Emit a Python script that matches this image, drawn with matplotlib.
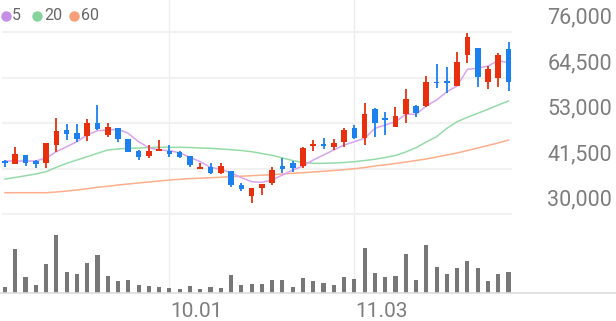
import numpy as np
import matplotlib.pyplot as plt
from matplotlib.lines import Line2D
from matplotlib.transforms import blended_transform_factory

plt.rcParams['font.family'] = ['Roboto', 'DejaVu Sans']

# daily candles (50 sessions)
opens = [43400, 42560, 44990, 43400, 42810, 47440, 51230, 50550, 49790, 52920,
         49970, 51660, 48880, 45920, 44660, 46000, 45920, 45750, 44740, 41370,
         41960, 40440, 40940, 37330, 34550, 36500, 37910, 42130, 42810, 42130,
         47190, 47570, 47010, 48270, 51810, 49130, 56460, 54010, 51910, 55200,
         57300, 57300, 63360, 63440, 62350, 70190, 72030, 63440, 64300, 71700]
highs = [43650, 47010, 44990, 43650, 47870, 54190, 52670, 52750, 53940, 57470,
         53080, 51800, 49000, 46180, 47440, 48700, 47440, 45900, 44740, 42810,
         42970, 42970, 40940, 37910, 36500, 37660, 41800, 44080, 43470, 47010,
         48700, 49290, 48880, 51660, 52500, 57980, 56720, 55860, 57120, 61520,
         57550, 64880, 67910, 67230, 71020, 75820, 72030, 67410, 70620, 73550]
lows = [41880, 42560, 42130, 41630, 41700, 45750, 48700, 48270, 48450, 51230,
        49390, 48270, 45600, 43650, 44080, 46000, 44480, 44080, 41960, 41300,
        40110, 40030, 36900, 35890, 32860, 34800, 37330, 40290, 40690, 41550,
        46000, 46430, 46180, 47010, 48880, 47360, 49540, 49970, 51910, 52920,
        54590, 56970, 61920, 60660, 62350, 68240, 62020, 61520, 62020, 61090]
closes = [42890, 45170, 42970, 42640, 47870, 51050, 50220, 48880, 53080, 51410,
          52070, 48880, 45750, 44480, 45920, 46430, 45170, 44480, 42390, 41800,
          40290, 42130, 37330, 36240, 36500, 37660, 41120, 41300, 41700, 46610,
          47690, 47310, 48020, 51230, 49130, 55280, 52920, 53830, 54850, 59070,
          55600, 63440, 63110, 63190, 68340, 74810, 64700, 66570, 70190, 63290]

ma5 = [43400, 43400, 43400, 43400, 44150, 45750, 47010, 48270, 49970, 51050,
       51230, 51410, 50400, 48270, 46760, 46180, 46000, 45490, 44330, 43220,
       41800, 41300, 40440, 39170, 38160, 38010, 38590, 39860, 41120, 42130,
       43650, 44910, 46180, 47440, 48270, 49130, 51660, 52500, 53330, 55200,
       55200, 57300, 58810, 60910, 62350, 66570, 66820, 67410, 68750, 68240]
ma20 = [38850, 39230, 39680, 40110, 40690, 41800, 42810, 43650, 44480, 45340,
        46180, 46430, 46610, 46680, 46810, 46860, 46860, 46860, 46810, 46680,
        46610, 46430, 46250, 46050, 45750, 45290, 44840, 44150, 43520, 43020,
        42810, 42810, 42890, 43020, 43220, 43520, 43830, 44280, 44790, 45670,
        46760, 48200, 49540, 51660, 53330, 54440, 55450, 56460, 57550, 58560]
ma60 = [35380, 35380, 35380, 35380, 35380, 35560, 35810, 36070, 36390, 36750,
        37000, 37330, 37580, 37840, 38090, 38340, 38590, 38770, 38920, 39050,
        39170, 39300, 39430, 39550, 39680, 39810, 39930, 40110, 40290, 40440,
        40620, 40790, 40990, 41200, 41450, 41750, 42130, 42440, 42760, 43140,
        43520, 43900, 44410, 44910, 45420, 46050, 46680, 47310, 47950, 48700]

volumes = [6, 44, 16, 8, 29, 58, 21, 19, 30, 38,
           17, 12, 13, 8, 7, 6, 5, 4, 7, 4,
           6, 5, 18, 8, 9, 9, 13, 13, 6, 15,
           12, 10, 8, 16, 14, 45, 20, 16, 17, 39,
           13, 48, 26, 19, 25, 32, 25, 12, 19, 21]

price_ticks = [30000, 41500, 53000, 64500, 76000]
date_ticks = [16, 34]
date_labels = ['10.01', '11.03']

ma_labels = ['5', '20', '60']
ma_colors = ['#d8a4f2', '#95dba8', '#fdae8c']
legend_colors = ['#c58fe8', '#86d39c', '#f79f78']

UP = '#e8300f'
DOWN = '#1c80ef'
W, H = 616, 321

fig = plt.figure(figsize=(W / 100, H / 100), dpi=100)
ax = fig.add_axes([2 / W, (H - 222) / H, 510 / W, 222 / H])
axv = fig.add_axes([2 / W, (H - 293) / H, 510 / W, 71 / H])

o = np.array(opens)
c = np.array(closes)
x = np.arange(len(o))
up = c >= o
colors = np.where(up, UP, DOWN)

for a in (ax, axv):
    a.set_xlim(-0.29, 49.34)
    for s in a.spines.values():
        s.set_visible(False)
    a.tick_params(left=False, right=False, labelleft=False, bottom=False, labelbottom=False)
    a.set_facecolor('none')
    for d in date_ticks:
        a.axvline(d, color='#eeeeee', lw=1, zorder=0)

ax.set_ylim(27978, 84088)
for v in price_ticks:
    ax.axhline(v, color='#f1f1f1', lw=1.5, zorder=0)

# moving averages
for ma, col in zip([ma60, ma20, ma5], ma_colors[::-1]):
    ax.plot(x, ma, color=col, lw=1.1, zorder=2)

# candles
ax.vlines(x, lows, highs, colors=colors, lw=1.3, zorder=3)
bottoms = np.minimum(o, c)
heights = np.maximum(np.abs(c - o), 350)
ax.bar(x, heights, bottom=bottoms, width=0.55, color=colors, zorder=4, linewidth=0)

# price labels on the right
tr = blended_transform_factory(fig.transFigure, ax.transData)
for v in price_ticks:
    ax.annotate(f'{v:,}', xy=(612 / W, v), xycoords=tr, xytext=(0, 10),
                textcoords='offset points', ha='right', va='center',
                fontsize=15.5, color='#7d7d7d', annotation_clip=False)

# volume
axv.bar(x, volumes, width=0.4, color='#777777', zorder=3)
axv.set_ylim(0, max(volumes) * 71 / 58)
fig.add_artist(Line2D([0, 1], [(H - 293) / H] * 2, transform=fig.transFigure,
                      color='#dddddd', lw=1.2))

for d, lab in zip(date_ticks, date_labels):
    axv.annotate(lab, xy=(d, 0), xycoords=('data', 'axes fraction'),
                 xytext=(0.5, -13), textcoords='offset points',
                 ha='left', va='center', fontsize=15, color='#7d7d7d',
                 annotation_clip=False)

# legend
lx = [6, 37, 74]
tx = [12, 44, 81]
for cx, t, lab, col in zip(lx, tx, ma_labels, legend_colors):
    fig.add_artist(Line2D([cx / W], [(H - 16) / H], marker='o', markersize=6.5,
                          color=col, transform=fig.transFigure, linestyle='none'))
    fig.text(t / W, (H - 16) / H, lab, ha='left', va='center', fontsize=11.5, color='#666666')

fig.savefig('out.png', dpi=100)
